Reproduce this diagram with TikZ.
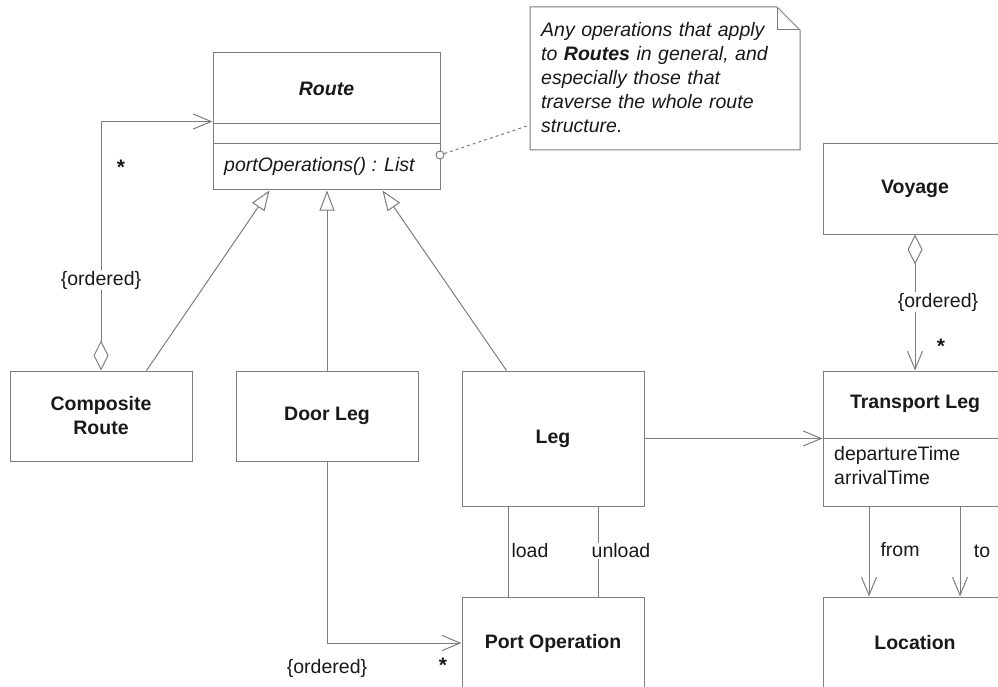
\documentclass[tikz,border=0pt]{standalone}
\usepackage{fontspec}
\setmainfont{Liberation Sans}
\usetikzlibrary{arrows.meta,calc}
\definecolor{ln}{RGB}{125,125,125}
\definecolor{tx}{RGB}{25,25,25}
\begin{document}
\begin{tikzpicture}[x=1pt,y=-1pt,
  every node/.style={text=tx,font=\fontsize{19.5}{24}\selectfont},
  box/.style={draw=ln,line width=1pt,fill=white,inner sep=0pt,align=center,
    font=\fontsize{19.5}{24}\selectfont\bfseries},
  conn/.style={draw=ln,line width=1pt},
  barb/.style={conn,-{Straight Barb[length=18pt,width=15pt]}},
  gen/.style={conn,-{Triangle[open,length=20pt,width=15pt,fill=white]}},
  aggr/.style={conn,{Diamond[open,length=30pt,width=15pt,fill=white]}-{Straight Barb[length=18pt,width=15pt]}},
  lbl/.style={inner sep=1pt},
  lblw/.style={inner sep=1pt,fill=white},
  star/.style={inner sep=0pt,font=\fontsize{21}{24}\selectfont\bfseries}
]
\useasboundingbox (0,0) rectangle (998,687);
\clip (0,0) rectangle (998,687);

% Route class
\node[box,minimum width=227pt,minimum height=137pt] (route) at (326.5,121.5) {};
\draw[conn] ($(route.north west)+(0,71)$) -- ($(route.north east)+(0,71)$);
\draw[conn] ($(route.north west)+(0,91)$) -- ($(route.north east)+(0,91)$);
\node[font=\fontsize{19.5}{24}\selectfont\bfseries\itshape] (routename) at (326.5,89) {Route};
\node[anchor=west,inner sep=0pt,font=\fontsize{19.5}{24}\selectfont\itshape] (routeop) at (224,166) {portOperations() : List};

% Note
\draw[draw=ln,line width=1pt,fill=white] (530,7) -- (777,7) -- (800,30) -- (800,150) -- (530,150) -- cycle;
\draw[draw=ln,line width=1pt] (777,7) -- (777,30) -- (800,30);
\node[anchor=north west,inner sep=0pt,align=left,text width=250pt,
  font=\fontsize{19.5}{24}\selectfont\itshape] (notetext) at (541,22)
  {Any operations that apply\\to \textbf{Routes} in general, and\\especially those that\\traverse the whole route\\structure.};
\coordinate (noteL) at (530,125);
\node[circle,draw=ln,line width=1pt,fill=white,inner sep=0pt,minimum size=8pt] (anch) at (440,155) {};
\draw[conn,dashed] (anch) -- (noteL);

% Other classes
\node[box,minimum width=182pt,minimum height=90pt] (comp) at (101,416) {Composite\\Route};
\node[box,minimum width=182pt,minimum height=90pt] (door) at (327,416) {Door Leg};
\node[box,minimum width=182pt,minimum height=135pt] (leg) at (553,438.5) {Leg};
\node[box,minimum width=182pt,minimum height=92pt] (portop) at (553,643) {Port Operation};
\node[box,minimum width=184pt,minimum height=90pt] (voyage) at (915,189) {Voyage};
\node[box,minimum width=184pt,minimum height=135pt] (tleg) at (915,438.5) {};
\draw[conn] ($(tleg.north west)+(0,68)$) -- ($(tleg.north east)+(0,68)$);
\node[font=\fontsize{19.5}{24}\selectfont\bfseries] (tlegname) at (915,404) {Transport Leg};
\node[anchor=north west,inner sep=0pt,align=left] (tlegattr) at (834,446) {departureTime\\arrivalTime};
\node[box,minimum width=184pt,minimum height=92pt] (location) at (915,643) {Location};

% Generalizations
\draw[gen] ($(comp.north west)+(137,0)$) -- ($(route.south west)+(57,0)$);
\draw[gen] (door.north) -- (door.north |- route.south);
\draw[gen] ($(leg.north west)+(45,0)$) -- ($(route.south west)+(170,0)$);

% Composite Route aggregation
\draw[aggr] (comp.north) -- ($(comp.north |- route.north)+(0,69)$) -- ($(route.north west)+(0,69)$);
\node[lblw] (ord1) at (101,280) {\{ordered\}};
\node[star] (star1) at (121,167) {*};

% Voyage aggregation
\draw[aggr] (voyage.south) -- (tleg.north);
\node[lblw] (ord2) at (938,302) {\{ordered\}};
\node[star] (star2) at (941,346) {*};

% Leg -> Transport Leg
\draw[barb] (leg.east) -- (leg.east -| tleg.west);

% Transport Leg -> Location
\draw[barb] ($(tleg.south)+(-46,0)$) -- ($(location.north)+(-46,0)$);
\draw[barb] ($(tleg.south)+(45,0)$) -- ($(location.north)+(45,0)$);
\node[lbl] (from) at (900,550) {from};
\node[lbl] (to) at (982,551) {to};

% Leg - Port Operation
\draw[conn] ($(leg.south)+(-45,0)$) -- ($(portop.north)+(-45,0)$);
\draw[conn] ($(leg.south)+(45,0)$) -- ($(portop.north)+(45,0)$);
\node[lbl] (load) at (530,551) {load};
\node[lblw] (unload) at (621,551) {unload};

% Door Leg -> Port Operation
\draw[barb] (door.south) |- (portop.west);
\node[lbl] (ord3) at (327,668) {\{ordered\}};
\node[star] (star3) at (443,665) {*};
\end{tikzpicture}
\end{document}
